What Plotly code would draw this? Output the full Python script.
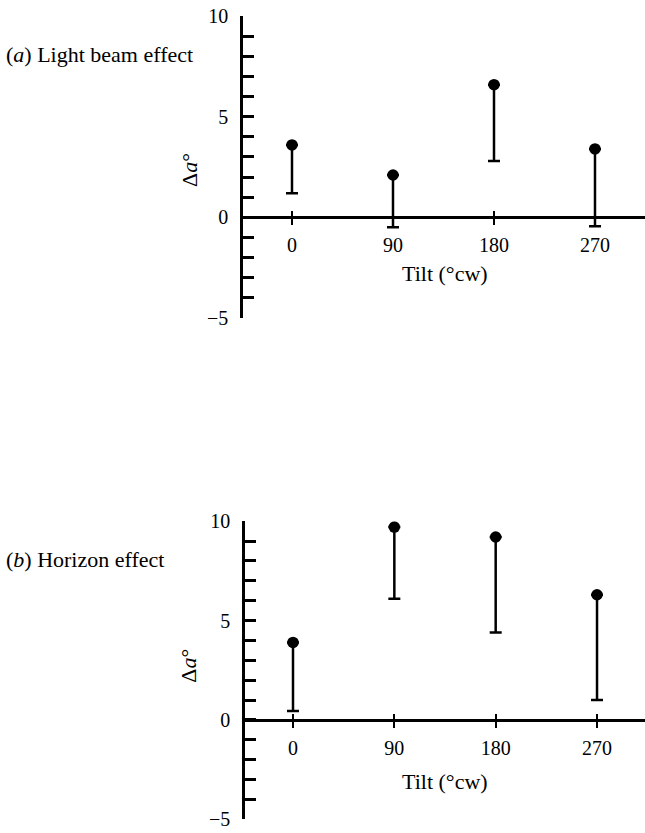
import plotly.graph_objects as go

# ---- data ----
tilt = [0, 90, 180, 270]
tilt_labels = ["0", "90", "180", "270"]
light_mean = [3.6, 2.1, 6.6, 3.4]
light_lower = [1.2, -0.5, 2.8, -0.45]
horizon_mean = [3.9, 9.7, 9.2, 6.3]
horizon_lower = [0.45, 6.1, 4.4, 1.0]
y_ticks = list(range(-5, 11))
y_tick_text = ["\u22125" if v == -5 else (str(v) if v % 5 == 0 else "") for v in y_ticks]
panel_titles = ["(<i>a</i>) Light beam effect", "(<i>b</i>) Horizon effect"]

W, H = 645, 833
FONT = "Liberation Serif"
# vertical calibration of the capture (observed = OFF + SC * set)
OFF, SC = 9.6, 0.976


def fx(px):
    return px / W


def fy(py):
    return 1 - ((py - OFF) / SC) / H


panels = [
    dict(left=243, x0=292, sx=1.1222, top=15, bottom=317, label_y=53, ytitle_y=169, xtitle_dy=56),
    dict(left=245, x0=293, sx=1.126, top=521, bottom=820, label_y=559, ytitle_y=666, xtitle_dy=62),
]

fig = go.Figure()
series = [(light_mean, light_lower), (horizon_mean, horizon_lower)]

layout = dict(
    width=W, height=H, margin=dict(l=0, r=0, t=0, b=0),
    paper_bgcolor="white", plot_bgcolor="white", showlegend=False,
    font=dict(family=FONT, color="black", size=20),
)
annotations = []

for i, ((mean, lower), g) in enumerate(zip(series, panels)):
    xn = "" if i == 0 else "2"
    yn = "" if i == 0 else "2"
    xo = str(3 + i)
    fig.add_trace(go.Scatter(
        x=tilt, y=mean, mode="markers",
        xaxis="x" + xn, yaxis="y" + yn,
        marker=dict(color="black", size=11.5),
        error_y=dict(type="data", symmetric=False, array=[0] * len(mean),
                     arrayminus=[m - l for m, l in zip(mean, lower)],
                     color="black", thickness=2.5, width=6),
        hoverinfo="skip",
    ))
    fig.add_trace(go.Scatter(x=[None], y=[None], xaxis="x" + xo, yaxis="y" + yn,
                             hoverinfo="skip"))

    xr = [(g["left"] - g["x0"]) / g["sx"], (W - g["x0"]) / g["sx"]]
    unit = (g["bottom"] - g["top"]) / 15.0
    y0px = g["bottom"] - 5 * unit
    xdom = [fx(g["left"]), 1.0]
    common_x = dict(range=xr, domain=xdom, anchor="free", position=fy(y0px),
                    tickvals=tilt, showgrid=False, zeroline=False,
                    tickwidth=2, tickcolor="black")
    layout["xaxis" + xn] = dict(
        common_x, ticktext=tilt_labels, ticks="outside", ticklen=6,
        showline=True, linewidth=2.5, linecolor="black",
        tickfont=dict(family=FONT, size=20, color="black"),
        ticklabelstandoff=3,
    )
    layout["xaxis" + xo] = dict(
        common_x, overlaying="x" + xn, ticks="inside", ticklen=6,
        showline=False, showticklabels=False,
    )
    layout["yaxis" + yn] = dict(
        range=[-5, 10], domain=[fy(g["bottom"]), fy(g["top"])],
        anchor="x" + xn, tickvals=y_ticks, ticktext=y_tick_text,
        ticks="inside", ticklen=11, tickwidth=2.5, tickcolor="black",
        showline=True, linewidth=2.5, linecolor="black",
        showgrid=False, zeroline=False,
        tickfont=dict(family=FONT, size=20, color="black"),
        ticklabelstandoff=8,
    )

    annotations.append(dict(text=panel_titles[i], xref="paper", yref="paper",
                            x=fx(4), y=fy(g["label_y"]), xanchor="left", yanchor="middle",
                            showarrow=False, font=dict(family=FONT, size=22, color="black")))
    annotations.append(dict(text="\u0394<i>a</i>\u00b0", xref="paper", yref="paper",
                            x=fx(189), y=fy(g["ytitle_y"]), xanchor="center", yanchor="middle",
                            textangle=-90, showarrow=False,
                            font=dict(family=FONT, size=22, color="black")))
    annotations.append(dict(text="Tilt (\u00b0cw)", xref="paper", yref="paper",
                            x=fx(445), y=fy(y0px + g["xtitle_dy"]), xanchor="center", yanchor="middle",
                            showarrow=False, font=dict(family=FONT, size=22, color="black")))

layout["annotations"] = annotations
fig.update_layout(**layout)
fig.write_html("out.html", config={"displayModeBar": False},
               post_script="document.body.style.margin='0';document.body.style.overflow='hidden';")
